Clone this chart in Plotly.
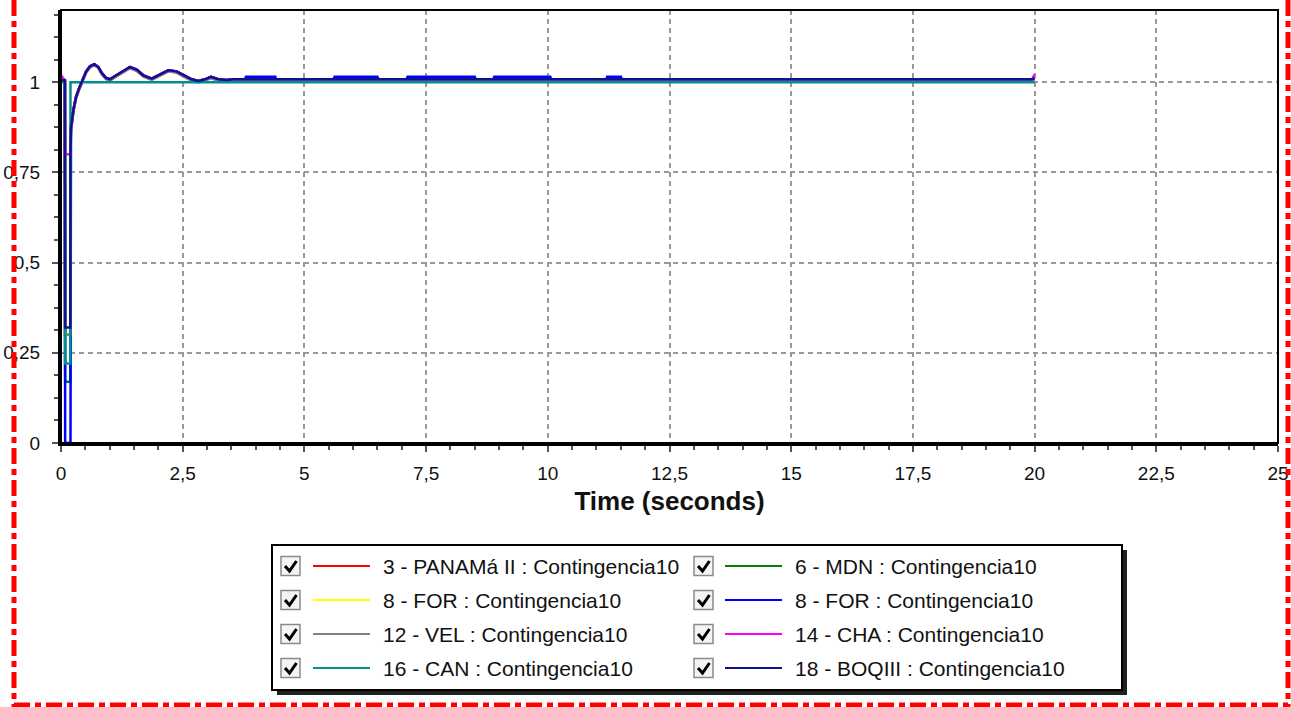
import plotly.graph_objects as go

# ---------------- data ----------------
time_s = [0.0, 0.08, 0.085, 0.19, 0.195,
          0.205, 0.253, 0.308, 0.376, 0.445, 0.514, 0.596, 0.685, 0.767, 0.835,
          0.924, 1.006, 1.109, 1.246, 1.417, 1.555, 1.691, 1.863, 2.034, 2.205,
          2.376, 2.547, 2.684, 2.821, 2.958, 3.081, 3.232, 3.403, 3.54,
          3.78, 3.8, 4.4, 4.42, 5.6, 5.62, 6.5, 6.52, 7.1, 7.12,
          7.6, 7.62, 8.1, 8.12, 8.5, 8.52, 8.88, 8.9, 10.05, 10.07,
          11.2, 11.22, 11.5, 11.52, 19.95, 20.0]

time_can = [0.0, 0.08, 0.085, 0.19, 0.195, 20.0]

panama_ii = [1.004, 1.004, 0.30, 0.30, 0.88,
             0.870, 0.920, 0.958, 0.984, 1.005, 1.028, 1.043, 1.049, 1.041, 1.025,
             1.011, 1.007, 1.016, 1.028, 1.041, 1.034, 1.018, 1.009, 1.021, 1.032,
             1.029, 1.018, 1.007, 1.002, 1.007, 1.014, 1.007, 1.005, 1.007,
             1.007, 1.007, 1.007, 1.007, 1.007, 1.007, 1.007, 1.007, 1.007, 1.007,
             1.007, 1.007, 1.007, 1.007, 1.007, 1.007, 1.007, 1.007, 1.007, 1.007,
             1.007, 1.007, 1.007, 1.007, 1.007, 1.010]

mdn = [1.003, 1.003, 0.17, 0.17, 0.80,
       0.868, 0.918, 0.956, 0.982, 1.004, 1.027, 1.042, 1.048, 1.040, 1.024,
       1.010, 1.005, 1.015, 1.027, 1.040, 1.033, 1.017, 1.007, 1.020, 1.031,
       1.028, 1.017, 1.006, 1.001, 1.006, 1.013, 1.006, 1.004, 1.006,
       1.005, 1.005, 1.005, 1.005, 1.005, 1.005, 1.005, 1.005, 1.005, 1.005,
       1.005, 1.012, 1.012, 1.005, 1.005, 1.005, 1.005, 1.005, 1.005, 1.005,
       1.005, 1.005, 1.005, 1.005, 1.005, 1.008]

for_yellow = [1.005, 1.005, 0.30, 0.30, 0.80,
              0.872, 0.922, 0.959, 0.985, 1.006, 1.029, 1.044, 1.050, 1.042, 1.026,
              1.012, 1.008, 1.017, 1.029, 1.042, 1.035, 1.019, 1.010, 1.022, 1.033,
              1.030, 1.019, 1.008, 1.003, 1.008, 1.015, 1.008, 1.006, 1.008,
              1.008, 1.008, 1.008, 1.008, 1.008, 1.008, 1.008, 1.008, 1.008, 1.008,
              1.008, 1.008, 1.008, 1.008, 1.008, 1.008, 1.008, 1.008, 1.008, 1.008,
              1.008, 1.008, 1.008, 1.008, 1.008, 1.012]

for_blue = [1.005, 1.005, 0.0, 0.0, 0.0,
            0.872, 0.922, 0.959, 0.985, 1.006, 1.029, 1.044, 1.050, 1.042, 1.026,
            1.012, 1.008, 1.017, 1.029, 1.042, 1.035, 1.019, 1.010, 1.022, 1.033,
            1.030, 1.019, 1.008, 1.003, 1.008, 1.015, 1.008, 1.006, 1.008,
            1.008, 1.015, 1.015, 1.008, 1.008, 1.015, 1.015, 1.008, 1.008, 1.015,
            1.015, 1.015, 1.015, 1.015, 1.015, 1.008, 1.008, 1.015, 1.015, 1.008,
            1.008, 1.015, 1.015, 1.008, 1.008, 1.012]

vel = [1.003, 1.003, 0.30, 0.30, 0.78,
       0.865, 0.915, 0.953, 0.980, 1.002, 1.025, 1.041, 1.047, 1.039, 1.022,
       1.008, 1.004, 1.013, 1.025, 1.039, 1.031, 1.015, 1.006, 1.018, 1.030,
       1.026, 1.015, 1.004, 0.999, 1.004, 1.011, 1.004, 1.002, 1.004,
       1.004, 1.004, 1.004, 1.004, 1.004, 1.004, 1.004, 1.004, 1.004, 1.004,
       1.004, 1.004, 1.004, 1.004, 1.004, 1.004, 1.004, 1.004, 1.004, 1.004,
       1.004, 1.004, 1.004, 1.004, 1.004, 1.008]

cha = [1.020, 1.005, 0.80, 0.80, 0.85,
       0.872, 0.922, 0.959, 0.985, 1.006, 1.029, 1.044, 1.050, 1.042, 1.026,
       1.012, 1.008, 1.017, 1.029, 1.042, 1.035, 1.019, 1.010, 1.022, 1.033,
       1.030, 1.019, 1.008, 1.003, 1.008, 1.015, 1.008, 1.006, 1.008,
       1.008, 1.008, 1.008, 1.008, 1.008, 1.008, 1.008, 1.008, 1.008, 1.008,
       1.008, 1.008, 1.008, 1.008, 1.008, 1.008, 1.008, 1.008, 1.008, 1.008,
       1.008, 1.008, 1.008, 1.008, 1.008, 1.022]

can = [1.0, 1.0, 0.22, 0.22, 1.0, 1.0]

boqiii = [1.005, 1.005, 0.32, 0.32, 0.80,
          0.872, 0.922, 0.959, 0.985, 1.006, 1.029, 1.044, 1.050, 1.042, 1.026,
          1.012, 1.008, 1.017, 1.029, 1.042, 1.035, 1.019, 1.010, 1.022, 1.033,
          1.030, 1.019, 1.008, 1.003, 1.008, 1.015, 1.008, 1.006, 1.008,
          1.008, 1.008, 1.008, 1.008, 1.008, 1.008, 1.008, 1.008, 1.008, 1.008,
          1.008, 1.008, 1.008, 1.008, 1.008, 1.008, 1.008, 1.008, 1.008, 1.008,
          1.008, 1.008, 1.008, 1.008, 1.008, 1.012]

series_names = ["3 - PANAMá II : Contingencia10", "6 - MDN : Contingencia10",
                "8 - FOR : Contingencia10", "8 - FOR : Contingencia10",
                "12 - VEL : Contingencia10", "14 - CHA : Contingencia10",
                "16 - CAN : Contingencia10", "18 - BOQIII : Contingencia10"]
series_colors = ["#FF0000", "#008000", "#FFFF00", "#0000FF",
                 "#808080", "#FF00FF", "#009090", "#101090"]
series_x = [time_s, time_s, time_s, time_s, time_s, time_s, time_can, time_s]
series_y = [panama_ii, mdn, for_yellow, for_blue, vel, cha, can, boqiii]

x_tick_vals = [0, 2.5, 5, 7.5, 10, 12.5, 15, 17.5, 20, 22.5, 25]
x_tick_text = ["0", "2,5", "5", "7,5", "10", "12,5", "15", "17,5", "20", "22,5", "25"]
y_tick_vals = [0, 0.25, 0.5, 0.75, 1]
y_tick_text = ["0", "0,25", "0,5", "0,75", "1"]

# ---------------- figure ----------------
FONT = "Arial, Liberation Sans, sans-serif"
L, T, W, H = 61, 10, 1217, 433


def px(x):
    return (x - L) / W


def py(y):
    return (T + H - y) / H


fig = go.Figure()
for xs, ys, name, col in zip(series_x, series_y, series_names, series_colors):
    fig.add_trace(go.Scatter(x=xs, y=ys, mode="lines", name=name,
                             line=dict(color=col, width=2.5), showlegend=False))

shapes = []
annotations = []

# plot frame
shapes.append(dict(type="rect", xref="paper", yref="paper", x0=0, x1=1, y0=0, y1=1,
                   line=dict(color="black", width=2), layer="above"))

# legend box with shadow
shapes.append(dict(type="rect", xref="paper", yref="paper",
                   x0=px(277), x1=px(1127), y0=py(695), y1=py(550),
                   fillcolor="#202020", line=dict(width=0)))
shapes.append(dict(type="rect", xref="paper", yref="paper",
                   x0=px(272), x1=px(1122), y0=py(690), y1=py(545),
                   fillcolor="white", line=dict(color="black", width=2)))

rows_y = [566, 600, 634, 668]
cols = [(281, 313, 381), (694, 725, 793)]
for i, (name, col) in enumerate(zip(series_names, series_colors)):
    r, c = divmod(i, 2)
    cy = rows_y[r]
    cbx, lx, tx = cols[c]
    # checkbox
    shapes.append(dict(type="rect", xref="paper", yref="paper",
                       x0=px(cbx), x1=px(cbx + 19), y0=py(cy + 9.5), y1=py(cy - 9.5),
                       fillcolor="#f4f4f4", line=dict(color="#8a8a8a", width=1.5)))
    shapes.append(dict(type="path", xref="paper", yref="paper",
                       path="M %f %f L %f %f L %f %f" % (px(cbx + 4), py(cy), px(cbx + 8.5), py(cy + 5),
                                                         px(cbx + 15.5), py(cy - 5)),
                       line=dict(color="black", width=3)))
    # line sample
    shapes.append(dict(type="line", xref="paper", yref="paper",
                       x0=px(lx), x1=px(lx + 57), y0=py(cy), y1=py(cy),
                       line=dict(color=col, width=2)))
    annotations.append(dict(x=px(tx), y=py(cy), xref="paper", yref="paper",
                            text=name, showarrow=False, xanchor="left", yanchor="middle",
                            font=dict(family=FONT, size=21, color="#111")))

# red dash-dot border
red = dict(color="#FF0000", width=5, dash="16px,5px,6px,5px")
shapes.append(dict(type="line", xref="paper", yref="paper", x0=px(14), x1=px(14),
                   y0=py(0), y1=py(707), line=red, layer="above"))
shapes.append(dict(type="line", xref="paper", yref="paper", x0=px(1288), x1=px(1288),
                   y0=py(0), y1=py(707), line=red, layer="above"))
shapes.append(dict(type="line", xref="paper", yref="paper", x0=px(14), x1=px(1288),
                   y0=py(705), y1=py(705), line=red, layer="above"))

fig.update_layout(
    width=1291, height=707,
    margin=dict(l=L, r=1291 - L - W, t=T, b=707 - T - H, pad=0, autoexpand=False),
    paper_bgcolor="white", plot_bgcolor="white",
    font=dict(family=FONT, color="black"),
    showlegend=False,
    shapes=shapes,
    annotations=annotations,
    xaxis=dict(
        range=[0, 25], tickmode="array", tickvals=x_tick_vals, ticktext=x_tick_text,
        automargin=False,
        ticks="outside", ticklen=6, tickwidth=1.5, tickcolor="#555",
        showline=True, linecolor="black", linewidth=3, mirror=False,
        showgrid=True, gridcolor="#999999", gridwidth=1.5, griddash="5px,4px",
        zeroline=False, tickfont=dict(size=19, color="#111"), ticklabelstandoff=5,
        minor=dict(tickmode="linear", tick0=0, dtick=0.5, ticks="outside",
                   ticklen=4, tickcolor="#555", showgrid=False),
        title=dict(text="<b>Time (seconds)</b>", font=dict(size=26, color="#111"), standoff=10),
    ),
    yaxis=dict(
        range=[0, 1.2], tickmode="array", tickvals=y_tick_vals, ticktext=y_tick_text,
        automargin=False,
        ticks="outside", ticklen=6, tickwidth=1.5, tickcolor="#555",
        showline=True, linecolor="black", linewidth=3, mirror=False,
        showgrid=True, gridcolor="#999999", gridwidth=1.5, griddash="5px,4px",
        zeroline=False, tickfont=dict(size=19, color="#111"), ticklabelstandoff=8,
        minor=dict(tickmode="linear", tick0=0, dtick=0.0625, ticks="outside",
                   ticklen=4, tickcolor="#555", showgrid=False),
    ),
)

fig.write_html("out.html")
